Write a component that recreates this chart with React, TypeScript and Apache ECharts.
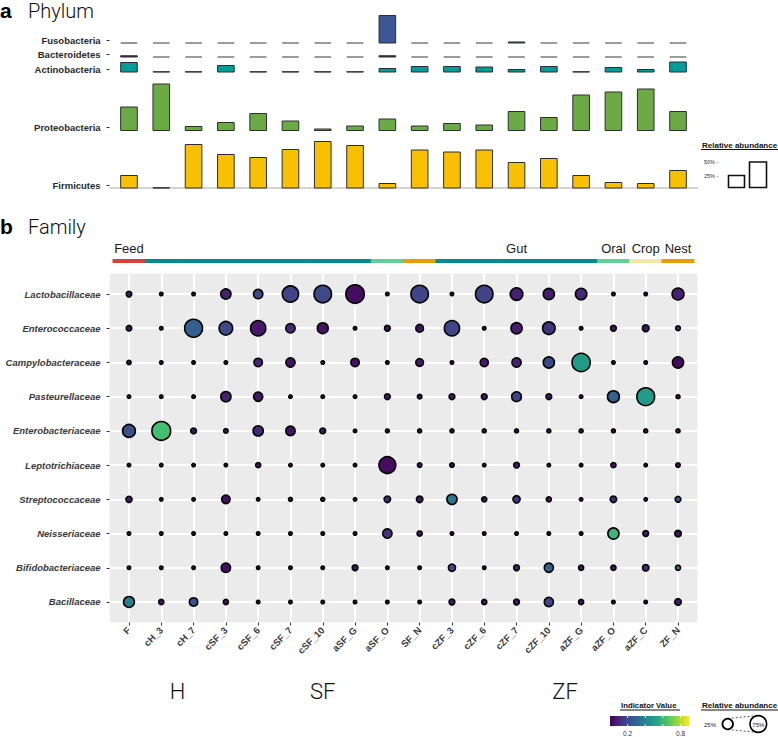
import React, { useEffect, useRef } from 'react';
import * as echarts from 'echarts';

// ---------- data ----------
const samples = ['F', 'cH_3', 'cH_7', 'cSF_3', 'cSF_6', 'cSF_7', 'cSF_10', 'aSF_G', 'aSF_O', 'SF_N', 'cZF_3', 'cZF_6', 'cZF_7', 'cZF_10', 'aZF_G', 'aZF_O', 'aZF_C', 'ZF_N'];
const sampleType = ['Feed', 'Gut', 'Gut', 'Gut', 'Gut', 'Gut', 'Gut', 'Gut', 'Oral', 'Nest', 'Gut', 'Gut', 'Gut', 'Gut', 'Gut', 'Oral', 'Crop', 'Nest'];
const typeNames = ['Feed', 'Gut', 'Oral', 'Crop', 'Nest'];
const typeColors = ['#DA3F3F', '#008C8C', '#66CC99', '#F0E7A8', '#E69F00'];
const typeLabelCols = [0, 12, 15, 16, 17];
const hostGroups = ['H', 'SF', 'ZF'];
const hostFirstCol = [1, 3, 10];
const hostLastCol = [2, 9, 17];

// Phylum relative abundance (%)
const phyla = ['Fusobacteria', 'Bacteroidetes', 'Actinobacteria', 'Proteobacteria', 'Firmicutes'];
const phylumBase = [290, 262, 232, 115, 0];
const phylumColors = ['#3A5794', '#4B1D5B', '#009C9A', '#6BAA44', '#F8C000'];
const fusobacteria = [0, 0, 0, 0, 0, 0, 0, 0, 55, 0, 0, 0, 2, 0, 0, 0, 0, 0];
const bacteroidetes = [2.5, 0, 0, 0, 0, 0, 0, 0, 2.5, 0, 0, 0, 0, 0, 0, 0, 0, 0];
const actinobacteria = [19, 0.5, 0.5, 13, 0.5, 0.5, 0.5, 0.5, 7, 11, 11, 10, 5, 11, 0.5, 9, 5, 20];
const proteobacteria = [47, 93, 8, 16, 34, 19, 3, 9, 23, 9, 14, 11, 38, 26, 71, 77, 83, 38];
const firmicutes = [25, 0.5, 87, 67, 61, 77, 93, 85, 9, 76, 72, 76, 51, 59, 25, 11, 9, 35];

// Family: relative abundance (%) and indicator value
const families = ['Lactobacillaceae', 'Enterococcaceae', 'Campylobacteraceae', 'Pasteurellaceae', 'Enterobacteriaceae', 'Leptotrichiaceae', 'Streptococcaceae', 'Neisseriaceae', 'Bifidobacteriaceae', 'Bacillaceae'];
const abundance = [
  [4, 0.5, 0.5, 23, 19, 72, 86, 97, 0.5, 86, 0.5, 86, 39, 29, 31, 0.5, 0.5, 34],
  [4, 0.5, 90, 47, 62, 19, 27, 0.5, 4.5, 11, 62, 0.5, 29, 39, 0.5, 4.5, 7.5, 2],
  [1.5, 0.5, 0.5, 0.5, 14, 18, 0.5, 14, 0.5, 11, 0.5, 13, 18, 29, 94, 0.5, 0.5, 29],
  [0.5, 0.5, 0.5, 23, 18, 0.5, 0.5, 0.5, 4.5, 1.8, 4.5, 4.5, 21, 4.5, 0.5, 34, 89, 1],
  [41, 100, 4.5, 1.8, 23, 19, 4.5, 0.5, 0.8, 1, 1, 1, 1, 1, 1, 1, 1, 1.2],
  [0.5, 0.5, 0.5, 0.5, 3, 0.5, 0.5, 0.5, 78, 1.8, 1.8, 0.5, 4.5, 0.5, 0.5, 3, 0.5, 1.8],
  [5.6, 0.5, 0.5, 14, 0.5, 1, 1, 0.5, 6.6, 6.6, 23, 3, 9, 3, 0.5, 6.6, 0.5, 4.5],
  [0.5, 0.5, 0.5, 0.5, 0.5, 0.5, 0.5, 0.5, 19, 3, 0.5, 0.5, 0.5, 0.5, 0.5, 29, 4.5, 6.6],
  [0.5, 0.5, 0.5, 19, 0.5, 0.5, 0.5, 4.5, 0.5, 0.5, 9, 0.5, 4.5, 18, 3, 3, 6.6, 3],
  [27, 3, 14, 3, 0.5, 0.5, 0.5, 0.5, 0.5, 0.5, 4.5, 3, 4.5, 18, 3, 0.5, 0.5, 6.6],
];
const indicator = [
  [0.05, 0.01, 0.01, 0.08, 0.2, 0.18, 0.2, 0.03, 0.01, 0.18, 0.01, 0.18, 0.08, 0.07, 0.1, 0.01, 0.01, 0.08],
  [0.04, 0.01, 0.27, 0.2, 0.06, 0.1, 0.05, 0.01, 0.05, 0.05, 0.18, 0.01, 0.07, 0.13, 0.01, 0.05, 0.05, 0.15],
  [0.02, 0.01, 0.01, 0.01, 0.1, 0.05, 0.01, 0.04, 0.01, 0.06, 0.01, 0.06, 0.08, 0.2, 0.49, 0.01, 0.01, 0.02],
  [0.01, 0.01, 0.01, 0.08, 0.05, 0.01, 0.01, 0.01, 0.05, 0.03, 0.05, 0.05, 0.18, 0.05, 0.01, 0.28, 0.49, 0.02],
  [0.22, 0.63, 0.05, 0.03, 0.1, 0.05, 0.04, 0.01, 0.02, 0.02, 0.02, 0.02, 0.02, 0.02, 0.02, 0.02, 0.02, 0.03],
  [0.01, 0.01, 0.01, 0.01, 0.04, 0.01, 0.01, 0.01, 0.03, 0.03, 0.03, 0.01, 0.06, 0.01, 0.01, 0.04, 0.01, 0.03],
  [0.06, 0.01, 0.01, 0.04, 0.01, 0.02, 0.02, 0.01, 0.1, 0.06, 0.36, 0.05, 0.15, 0.05, 0.01, 0.1, 0.01, 0.22],
  [0.01, 0.01, 0.01, 0.01, 0.01, 0.01, 0.01, 0.01, 0.12, 0.05, 0.01, 0.01, 0.01, 0.01, 0.01, 0.6, 0.06, 0.03],
  [0.01, 0.01, 0.01, 0.03, 0.01, 0.01, 0.01, 0.05, 0.01, 0.01, 0.2, 0.01, 0.08, 0.28, 0.05, 0.04, 0.1, 0.35],
  [0.37, 0.06, 0.22, 0.06, 0.01, 0.01, 0.01, 0.01, 0.01, 0.01, 0.06, 0.05, 0.06, 0.18, 0.05, 0.01, 0.01, 0.07],
];
const indicatorTicks = [0.2, 0.4, 0.6, 0.8];
const indicatorTickLabels = ['0.2', '', '', '0.8'];
const indicatorMax = 0.9;

const VIRIDIS = ['#440154', '#482475', '#414487', '#355f8d', '#2a788e', '#21918c', '#22a884', '#44bf70', '#7ad151', '#bddf26', '#fde725'];
const FONT = '"Liberation Sans", Arial, Helvetica, sans-serif';
const LIGHT = 'Roboto, "Liberation Sans", sans-serif';

const dotSize = (v: number) => 2.3 + 16.4 * Math.sqrt(v / 100);

export default function App() {
  const ref = useRef<HTMLDivElement>(null);
  useEffect(() => {
    document.body.style.margin = '0';
    const chart = echarts.init(ref.current as HTMLDivElement, null, { renderer: 'svg' });

    const phylumArrays = [fusobacteria, bacteroidetes, actinobacteria, proteobacteria, firmicutes];
    const barData: number[][] = [];
    phylumArrays.forEach((arr, p) => arr.forEach((v, c) => barData.push([c, p, v])));

    const dotData: number[][] = [];
    abundance.forEach((row, r) => row.forEach((v, c) => dotData.push([c, r, v, indicator[r][c]])));

    const headerData = sampleType.map((t, c) => [c, typeNames.indexOf(t)]);
    const headerLabelData = typeLabelCols.map((c, i) => [c, i]);
    const hostData = hostGroups.map((_, i) => [(hostFirstCol[i] + hostLastCol[i]) / 2, i]);

    const colIdx = samples.map((_, i) => i);
    const rowIdx = families.map((_, i) => i);
    const phyTicks = phylumBase.map((b) => b + 6);

    const L = 109.6;
    const W = 587.8;
    const xBase = { type: 'value', min: -0.6, max: 17.6 };

    const cbX = 610, cbY = 716, cbW = 79.3, cbH = 10;

    const graphic: any[] = [
      { type: 'text', x: 0, y: 10, style: { text: 'a', fontFamily: FONT, fontWeight: 'bold', fontSize: 21, fill: '#000', verticalAlign: 'middle' } },
      { type: 'text', x: 28, y: 10.5, style: { text: 'Phylum', fontFamily: LIGHT, fontWeight: 300, fontSize: 20, fill: '#111', verticalAlign: 'middle' } },
      { type: 'text', x: 0, y: 226, style: { text: 'b', fontFamily: FONT, fontWeight: 'bold', fontSize: 21, fill: '#000', verticalAlign: 'middle' } },
      { type: 'text', x: 28, y: 226.5, style: { text: 'Family', fontFamily: LIGHT, fontWeight: 300, fontSize: 20, fill: '#111', verticalAlign: 'middle' } },
      // top legend
      { type: 'text', x: 702, y: 145, style: { text: 'Relative abundance', fontFamily: FONT, fontWeight: 'bold', fontSize: 8, fill: '#111', verticalAlign: 'middle' } },
      { type: 'line', shape: { x1: 701, y1: 149.5, x2: 778, y2: 149.5 }, style: { stroke: '#111', lineWidth: 1 } },
      { type: 'text', x: 704, y: 162, style: { text: '50% -', fontFamily: FONT, fontSize: 5.5, fill: '#333', verticalAlign: 'middle' } },
      { type: 'text', x: 704, y: 175.5, style: { text: '25% -', fontFamily: FONT, fontSize: 5.5, fill: '#333', verticalAlign: 'middle' } },
      { type: 'rect', shape: { x: 728.5, y: 175.5, width: 16, height: 12 }, style: { fill: '#fff', stroke: '#111', lineWidth: 1.6 } },
      { type: 'rect', shape: { x: 749.5, y: 162, width: 17, height: 25.5 }, style: { fill: '#fff', stroke: '#111', lineWidth: 1.6 } },
      // bottom legends
      { type: 'text', x: 621, y: 705.5, style: { text: 'Indicator Value', fontFamily: FONT, fontWeight: 'bold', fontSize: 7.8, fill: '#111', verticalAlign: 'middle' } },
      { type: 'line', shape: { x1: 620, y1: 710, x2: 680, y2: 710 }, style: { stroke: '#111', lineWidth: 1 } },
      {
        type: 'rect', shape: { x: cbX, y: cbY, width: cbW, height: cbH },
        style: { fill: new echarts.graphic.LinearGradient(0, 0, 1, 0, VIRIDIS.map((c, i) => ({ offset: i / (VIRIDIS.length - 1), color: c }))) },
      },
      { type: 'text', x: 702, y: 705.5, style: { text: 'Relative abundance', fontFamily: FONT, fontWeight: 'bold', fontSize: 8, fill: '#111', verticalAlign: 'middle' } },
      { type: 'line', shape: { x1: 701, y1: 710, x2: 778, y2: 710 }, style: { stroke: '#111', lineWidth: 1 } },
      { type: 'text', x: 704, y: 724.5, style: { text: '25%', fontFamily: FONT, fontSize: 6, fill: '#222', verticalAlign: 'middle' } },
      { type: 'line', shape: { x1: 727.7, y1: 718.5, x2: 758.3, y2: 715.5 }, style: { stroke: '#333', lineWidth: 0.8, lineDash: [2, 2] } },
      { type: 'line', shape: { x1: 727.7, y1: 729.5, x2: 758.3, y2: 732.5 }, style: { stroke: '#333', lineWidth: 0.8, lineDash: [2, 2] } },
      { type: 'circle', shape: { cx: 727.7, cy: 724, r: 5.3 }, style: { fill: '#fff', stroke: '#000', lineWidth: 1.8 } },
      { type: 'circle', shape: { cx: 758.3, cy: 724, r: 8.3 }, style: { fill: '#fff', stroke: '#000', lineWidth: 1.6 } },
      { type: 'text', x: 758.3, y: 724.5, style: { text: '75%', fontFamily: FONT, fontSize: 6, fill: '#222', align: 'center', verticalAlign: 'middle' } },
    ];
    indicatorTicks.forEach((t, i) => {
      const x = cbX + (t / indicatorMax) * cbW;
      graphic.push({ type: 'line', shape: { x1: x, y1: cbY, x2: x, y2: cbY + 2 }, style: { stroke: '#fff', lineWidth: 0.8 } });
      graphic.push({ type: 'line', shape: { x1: x, y1: cbY + cbH - 2, x2: x, y2: cbY + cbH }, style: { stroke: '#fff', lineWidth: 0.8 } });
      if (indicatorTickLabels[i]) {
        graphic.push({ type: 'text', x, y: 733, style: { text: indicatorTickLabels[i], fontFamily: FONT, fontSize: 6.5, fill: '#333', align: 'center', verticalAlign: 'middle' } });
      }
    });

    const noZero = { onZero: false };

    const option: any = {
      animation: false,
      backgroundColor: '#fff',
      grid: [
        { left: L, width: W, top: 13, height: 175, containLabel: false, outerBoundsMode: 'none' },
        { left: L, width: W, top: 259, height: 4, containLabel: false, outerBoundsMode: 'none' },
        { left: L, width: W, top: 273.5, height: 349, containLabel: false, outerBoundsMode: 'none', show: true, backgroundColor: '#EBEBEB', borderWidth: 0 },
        { left: L, width: W, top: 681, height: 20, containLabel: false, outerBoundsMode: 'none' },
      ],
      xAxis: [
        { ...xBase, gridIndex: 0, position: 'bottom', axisLine: { show: true, onZero: false, lineStyle: { color: '#C6C6C6', width: 1.5 } }, axisTick: { show: false }, axisLabel: { show: false }, splitLine: { show: false } },
        { ...xBase, gridIndex: 1, show: false, axisLine: noZero },
        {
          ...xBase, gridIndex: 2, position: 'bottom',
          axisLine: { show: false, onZero: false },
          axisTick: { show: true, customValues: colIdx, length: 3, lineStyle: { color: '#333', width: 1 } },
          axisLabel: { customValues: colIdx, formatter: (v: number) => samples[Math.round(v)], rotate: 45, margin: 6, fontFamily: FONT, fontWeight: 'bold', fontSize: 9.5, color: '#3a3a3a' },
          splitLine: { show: true, lineStyle: { color: '#fff', width: 2 } },
        },
        { ...xBase, gridIndex: 3, show: false, axisLine: noZero },
      ],
      yAxis: [
        {
          type: 'value', gridIndex: 0, min: 0, max: 350, position: 'left',
          axisLine: { show: false, onZero: false },
          axisTick: { show: true, customValues: phyTicks, length: 3, lineStyle: { color: '#333', width: 1 } },
          axisLabel: {
            customValues: phyTicks,
            formatter: (v: number) => { const i = phyTicks.findIndex((t) => Math.abs(t - v) < 0.01); return i >= 0 ? phyla[i] : ''; },
            margin: 9, fontFamily: FONT, fontWeight: 'bold', fontSize: 9.5, color: '#2a2a2a',
          },
          splitLine: { show: false },
        },
        { type: 'value', gridIndex: 1, min: 0, max: 1, show: false, axisLine: noZero },
        {
          type: 'value', gridIndex: 2, min: -0.6, max: 9.6, inverse: true, position: 'left',
          axisLine: { show: false, onZero: false },
          axisTick: { show: true, customValues: rowIdx, length: 3, lineStyle: { color: '#333', width: 1 } },
          axisLabel: { customValues: rowIdx, formatter: (v: number) => families[Math.round(v)], margin: 9, fontFamily: FONT, fontWeight: 'bold', fontStyle: 'italic', fontSize: 9.5, color: '#3a3a3a' },
          splitLine: { show: true, lineStyle: { color: '#fff', width: 2 } },
        },
        { type: 'value', gridIndex: 3, min: 0, max: 1, show: false, axisLine: noZero },
      ],
      visualMap: {
        type: 'continuous', show: false, seriesIndex: 3, dimension: 3, min: 0, max: indicatorMax,
        inRange: { color: VIRIDIS },
      },
      series: [
        {
          type: 'custom', xAxisIndex: 0, yAxisIndex: 0, data: barData, clip: false,
          renderItem: (params: any, api: any) => {
            const c = api.value(0), p = api.value(1), v = api.value(2);
            const base = phylumBase[p];
            const w = api.size([0.515, 0], [c, base])[0];
            const p0 = api.coord([c, base]);
            const p1 = api.coord([c, base + v]);
            if (v === 0) {
              return { type: 'rect', shape: { x: p0[0] - w / 2, y: p0[1] - 0.7, width: w, height: 1.4 }, style: { fill: '#707070' } };
            }
            return { type: 'rect', shape: { x: p0[0] - w / 2, y: p1[1], width: w, height: p0[1] - p1[1] }, style: { fill: phylumColors[p], stroke: '#2e2e2e', lineWidth: 1 } };
          },
        },
        {
          type: 'custom', xAxisIndex: 1, yAxisIndex: 1, data: headerData, clip: false,
          renderItem: (params: any, api: any) => {
            const c = api.value(0), t = api.value(1);
            const a = api.coord([c - 0.5, 1]);
            const b = api.coord([c + 0.5, 0]);
            return { type: 'rect', shape: { x: a[0] - 0.3, y: a[1], width: b[0] - a[0] + 0.6, height: b[1] - a[1] }, style: { fill: typeColors[t] } };
          },
        },
        {
          type: 'custom', xAxisIndex: 1, yAxisIndex: 1, data: headerLabelData, clip: false,
          renderItem: (params: any, api: any) => {
            const c = api.value(0), i = api.value(1);
            const a = api.coord([c, 1]);
            return { type: 'text', x: a[0], y: a[1] - 10.5, style: { text: typeNames[i], fontFamily: FONT, fontSize: 13, fill: '#1a1a1a', align: 'center', verticalAlign: 'middle' } };
          },
        },
        {
          type: 'scatter', xAxisIndex: 2, yAxisIndex: 2, data: dotData,
          symbolSize: (v: number[]) => dotSize(v[2]),
          itemStyle: { borderColor: '#000', borderWidth: 1.6, opacity: 1 },
          emphasis: { disabled: true },
        },
        {
          type: 'custom', xAxisIndex: 3, yAxisIndex: 3, data: hostData, clip: false,
          renderItem: (params: any, api: any) => {
            const c = api.value(0), i = api.value(1);
            const a = api.coord([c, 0.5]);
            return { type: 'text', x: a[0], y: a[1], style: { text: hostGroups[i], fontFamily: LIGHT, fontWeight: 300, fontSize: 22, fill: '#111', align: 'center', verticalAlign: 'middle' } };
          },
        },
      ],
      graphic,
    };
    chart.setOption(option);
    return () => chart.dispose();
  }, []);
  return <div ref={ref} style={{ width: 778, height: 737 }} />;
}
